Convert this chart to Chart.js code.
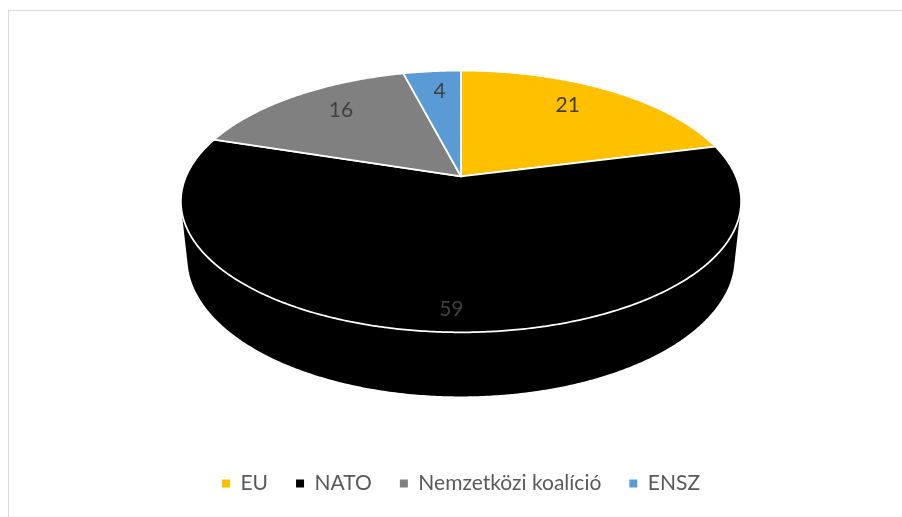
<!DOCTYPE html>
<html><head><meta charset="utf-8">
<script src="https://cdn.jsdelivr.net/npm/chart.js@4/dist/chart.umd.min.js"></script>
<style>
html,body{margin:0;padding:0;background:#fff;}
#wrap{position:relative;width:902px;height:517px;}
#frame{position:absolute;left:8px;top:10px;right:0;bottom:0;border-left:1px solid #d9d9d9;border-top:1px solid #d9d9d9;pointer-events:none;}
</style></head><body>
<div id="wrap"><canvas id="c" width="902" height="517"></canvas><div id="frame"></div></div>
<script>
const categories = ['EU', 'NATO', 'Nemzetközi koalíció', 'ENSZ'];
const values = [21, 59, 16, 4];
const sliceColors = ['#FFC000', '#000000', '#808080', '#5B9BD5'];

const pie3d = {
  id: 'pie3d',
  beforeDatasetsDraw(chart, args, opts) {
    const meta = chart.getDatasetMeta(0);
    const arcs = meta.data;
    if (!arcs.length) return false;
    const a0 = arcs[0];
    const R = a0.outerRadius;
    const F = opts.focal * R;
    const phi = opts.tilt * Math.PI / 180;
    const sp = Math.sin(phi), cp = Math.cos(phi);
    const Dc = opts.distance, h = opts.depth;
    const proj = (t, r, z) => {
      const X = r * Math.cos(t), Y = r * Math.sin(t);
      const d = Dc - Y * cp - z * sp;
      return [F * X / d, F * (Y * sp - z * cp) / d];
    };
    let minX = Infinity, maxX = -Infinity, minY = Infinity, maxY = -Infinity;
    for (let i = 0; i < 720; i++) {
      const t = i * Math.PI / 360;
      for (const z of [0, -h]) {
        const [x, y] = proj(t, 1, z);
        minX = Math.min(minX, x); maxX = Math.max(maxX, x);
        minY = Math.min(minY, y); maxY = Math.max(maxY, y);
      }
    }
    const ox = a0.x - (minX + maxX) / 2, oy = a0.y - (minY + maxY) / 2;
    const P = (t, r, z) => { const [x, y] = proj(t, r, z); return [ox + x, oy + y]; };
    const ctx = chart.ctx;
    const slices = arcs.map((arc, i) => ({ arc, i, mid: (arc.startAngle + arc.endAngle) / 2 }));
    const steps = (s0, s1) => Math.max(2, Math.ceil((s1 - s0) / (Math.PI / 360)));
    ctx.save();
    ctx.lineJoin = 'round';
    // outer walls, back to front: union of consistently oriented quads in one path
    const order = slices.slice().sort((p, q) => Math.sin(p.mid) - Math.sin(q.mid));
    for (const s of order) {
      const s0 = s.arc.startAngle, s1 = s.arc.endAngle;
      const n = steps(s0, s1);
      ctx.beginPath();
      for (let k = 0; k < n; k++) {
        const ta = s0 + (s1 - s0) * k / n, tb = s0 + (s1 - s0) * (k + 1) / n;
        let q = [P(ta, 1, 0), P(tb, 1, 0), P(tb, 1, -h), P(ta, 1, -h)];
        let area = 0;
        for (let j = 0; j < 4; j++) {
          const a = q[j], b = q[(j + 1) % 4];
          area += a[0] * b[1] - b[0] * a[1];
        }
        if (area < 0) q = q.reverse();
        ctx.moveTo(q[0][0], q[0][1]);
        for (let j = 1; j < 4; j++) ctx.lineTo(q[j][0], q[j][1]);
        ctx.closePath();
      }
      ctx.fillStyle = s.arc.options.backgroundColor;
      ctx.fill('nonzero');
    }
    // top faces
    for (const s of slices) {
      const s0 = s.arc.startAngle, s1 = s.arc.endAngle;
      const n = steps(s0, s1);
      ctx.beginPath();
      const [cx, cy] = P(0, 0, 0);
      ctx.moveTo(cx, cy);
      for (let k = 0; k <= n; k++) {
        const [x, y] = P(s0 + (s1 - s0) * k / n, 1, 0);
        ctx.lineTo(x, y);
      }
      ctx.closePath();
      ctx.fillStyle = s.arc.options.backgroundColor;
      ctx.fill();
      ctx.strokeStyle = opts.edgeColor;
      ctx.lineWidth = opts.edgeWidth;
      ctx.stroke();
    }
    // data labels
    const data = chart.data.datasets[0].data;
    ctx.fillStyle = opts.labelColor;
    ctx.font = opts.labelFont;
    ctx.textAlign = 'center';
    ctx.textBaseline = 'middle';
    for (const s of slices) {
      const r = opts.labelRadius + opts.labelFrontBoost * Math.max(0, Math.sin(s.mid));
      const [x, y] = P(s.mid, r, 0);
      ctx.fillText(String(data[s.i]), x, y - opts.labelLift * R);
    }
    ctx.restore();
    return false;
  }
};

new Chart(document.getElementById('c'), {
  type: 'pie',
  data: {
    labels: categories,
    datasets: [{
      data: values,
      backgroundColor: sliceColors,
      borderWidth: 0
    }]
  },
  options: {
    responsive: false,
    animation: false,
    devicePixelRatio: 1,
    layout: { padding: { top: 22, left: 20, right: 0, bottom: 13 } },
    plugins: {
      tooltip: { enabled: false },
      legend: {
        position: 'bottom',
        labels: {
          boxWidth: 8, boxHeight: 8, padding: 28,
          color: '#595959',
          font: { family: 'Lato', size: 21 }
        }
      },
      pie3d: {
        focal: 6.05, tilt: 27.3, distance: 4.654, depth: 0.233,
        edgeColor: '#ffffff', edgeWidth: 1.75,
        labelColor: '#404040', labelFont: '21px Lato',
        labelRadius: 0.7, labelFrontBoost: 0.22, labelLift: 0.038
      }
    }
  },
  plugins: [pie3d]
});
</script>
</body></html>
